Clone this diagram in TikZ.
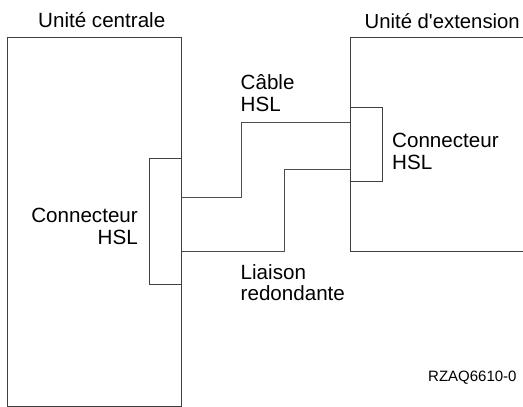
\documentclass[tikz,border=0pt]{standalone}
\usepackage{fontspec}
\setmainfont{Liberation Sans}
\begin{document}
\begin{tikzpicture}[x=1pt,y=-1pt,
  box/.style={draw=black!75, line width=0.9pt},
  wire/.style={draw=black!70, line width=0.8pt},
  lbl/.style={font=\fontsize{20.6}{22}\selectfont, inner sep=0pt, anchor=base west},
  lblr/.style={font=\fontsize{20.6}{22}\selectfont, inner sep=0pt, anchor=base east},
  small/.style={font=\fontsize{15}{16}\selectfont, inner sep=0pt, anchor=base west}]
\useasboundingbox (0,0) rectangle (523,407);
\begin{scope}
\clip (0,0) rectangle (523,407);
\draw[box] (7.5,37) rectangle (181,406);
\draw[box] (350,37) rectangle (540,251);
\node[box, fill=white, minimum width=32pt, minimum height=126pt, inner sep=0pt, anchor=north west] (lconn) at (149,158) {};
\node[box, fill=white, minimum width=32pt, minimum height=74pt, inner sep=0pt, anchor=north west] (rconn) at (350,107) {};
\coordinate (ca) at (lconn.north east |- 0,197);
\coordinate (cb) at (rconn.north west |- 0,122);
\coordinate (ra) at (lconn.north east |- 0,251);
\coordinate (rb) at (rconn.north west |- 0,169);
\draw[wire] (ca) -- (241,197) |- (cb);
\draw[wire] (ra) -- (284,251) |- (rb);
\end{scope}
\node[lbl] (t1) at (38,27.5) {Unité centrale};
\node[lblr, font=\fontsize{20.3}{22}\selectfont] (t2) at (520,28.5) {Unité d\textquotesingle extension};
\node[lbl] (t3) at (240.5,89) {Câble};
\node[lbl] (t4) at (240.5,111) {HSL};
\node[lbl] (t5) at (392,147) {Connecteur};
\node[lbl] (t6) at (392,169) {HSL};
\node[lblr] (t7) at (138,222) {Connecteur};
\node[lblr] (t8) at (138,244) {HSL};
\node[lbl] (t9) at (240.5,279) {Liaison};
\node[lbl] (t10) at (240.5,300.5) {redondante};
\node[small] (t11) at (428,381.5) {RZAQ6610-0};
\end{tikzpicture}
\end{document}
